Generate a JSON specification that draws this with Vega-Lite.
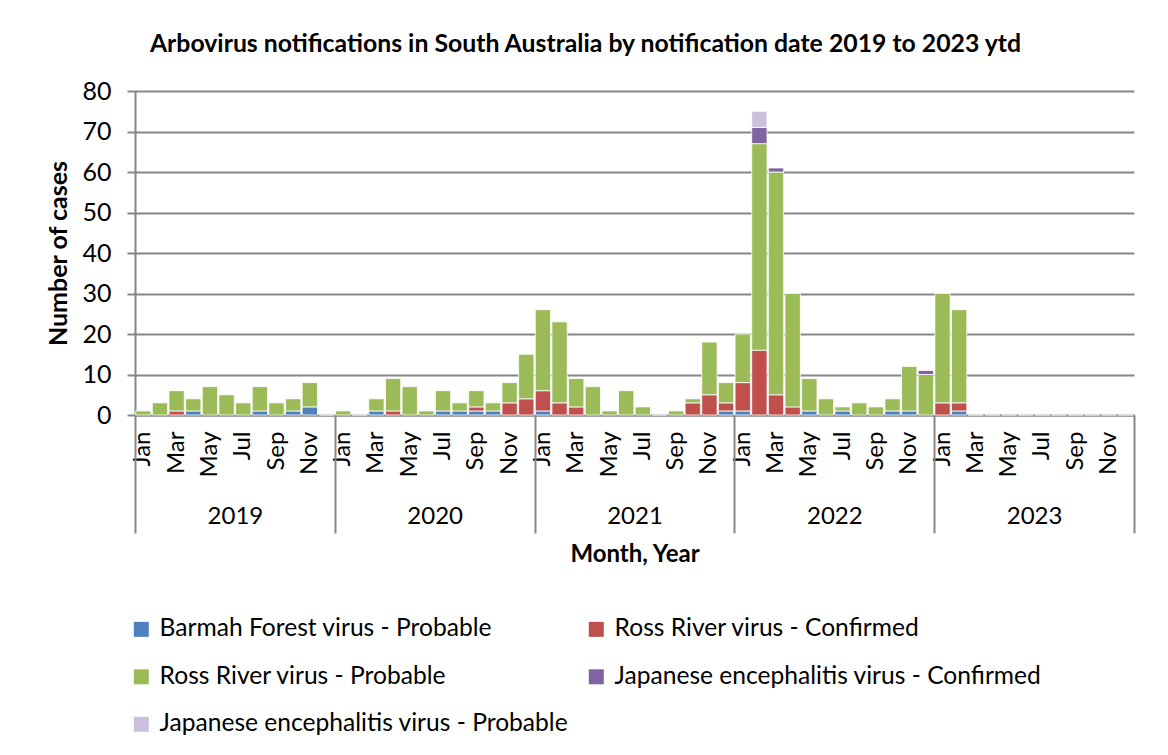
{
  "$schema": "https://vega.github.io/schema/vega-lite/v6.json",
  "width": 999,
  "height": 324,
  "autosize": {"type": "none"},
  "padding": {"left": 135, "top": 91, "right": 34, "bottom": 340},
  "background": "white",
  "config": {
    "font": "Lato",
    "view": {"stroke": null},
    "axis": {"labelColor": "black", "titleColor": "black", "labelFont": "Lato", "titleFont": "Lato"},
    "legend": {"layout": {"bottom": {"anchor": "start"}}}
  },
  "title": {
    "text": "Arbovirus notifications in South Australia by notification date 2019 to 2023 ytd",
    "font": "Lato",
    "fontSize": 24.8,
    "fontWeight": "bold",
    "color": "black",
    "anchor": "middle",
    "frame": "group",
    "dx": -49,
    "offset": 22
  },
  "datasets": {
    "seriesInfo": [
      {"series": "Barmah Forest virus  - Probable", "stackIndex": 1},
      {"series": "Ross River virus - Confirmed", "stackIndex": 2},
      {"series": "Ross River virus - Probable", "stackIndex": 3},
      {"series": "Japanese encephalitis virus - Confirmed", "stackIndex": 4},
      {"series": "Japanese encephalitis virus - Probable", "stackIndex": 5}
    ]
  },
  "data": {
    "values": [
      {"month": "Jan 2019", "year": "2019", "series": "Ross River virus - Probable", "cases": 1},
      {"month": "Feb 2019", "year": "2019", "series": "Ross River virus - Probable", "cases": 3},
      {"month": "Mar 2019", "year": "2019", "series": "Ross River virus - Confirmed", "cases": 1},
      {"month": "Mar 2019", "year": "2019", "series": "Ross River virus - Probable", "cases": 5},
      {"month": "Apr 2019", "year": "2019", "series": "Barmah Forest virus  - Probable", "cases": 1},
      {"month": "Apr 2019", "year": "2019", "series": "Ross River virus - Probable", "cases": 3},
      {"month": "May 2019", "year": "2019", "series": "Ross River virus - Probable", "cases": 7},
      {"month": "Jun 2019", "year": "2019", "series": "Ross River virus - Probable", "cases": 5},
      {"month": "Jul 2019", "year": "2019", "series": "Ross River virus - Probable", "cases": 3},
      {"month": "Aug 2019", "year": "2019", "series": "Barmah Forest virus  - Probable", "cases": 1},
      {"month": "Aug 2019", "year": "2019", "series": "Ross River virus - Probable", "cases": 6},
      {"month": "Sep 2019", "year": "2019", "series": "Ross River virus - Probable", "cases": 3},
      {"month": "Oct 2019", "year": "2019", "series": "Barmah Forest virus  - Probable", "cases": 1},
      {"month": "Oct 2019", "year": "2019", "series": "Ross River virus - Probable", "cases": 3},
      {"month": "Nov 2019", "year": "2019", "series": "Barmah Forest virus  - Probable", "cases": 2},
      {"month": "Nov 2019", "year": "2019", "series": "Ross River virus - Probable", "cases": 6},
      {"month": "Dec 2019", "year": "2019", "series": "Ross River virus - Probable", "cases": 0},
      {"month": "Jan 2020", "year": "2020", "series": "Ross River virus - Probable", "cases": 1},
      {"month": "Feb 2020", "year": "2020", "series": "Ross River virus - Probable", "cases": 0},
      {"month": "Mar 2020", "year": "2020", "series": "Barmah Forest virus  - Probable", "cases": 1},
      {"month": "Mar 2020", "year": "2020", "series": "Ross River virus - Probable", "cases": 3},
      {"month": "Apr 2020", "year": "2020", "series": "Ross River virus - Confirmed", "cases": 1},
      {"month": "Apr 2020", "year": "2020", "series": "Ross River virus - Probable", "cases": 8},
      {"month": "May 2020", "year": "2020", "series": "Ross River virus - Probable", "cases": 7},
      {"month": "Jun 2020", "year": "2020", "series": "Ross River virus - Probable", "cases": 1},
      {"month": "Jul 2020", "year": "2020", "series": "Barmah Forest virus  - Probable", "cases": 1},
      {"month": "Jul 2020", "year": "2020", "series": "Ross River virus - Probable", "cases": 5},
      {"month": "Aug 2020", "year": "2020", "series": "Barmah Forest virus  - Probable", "cases": 1},
      {"month": "Aug 2020", "year": "2020", "series": "Ross River virus - Probable", "cases": 2},
      {"month": "Sep 2020", "year": "2020", "series": "Barmah Forest virus  - Probable", "cases": 1},
      {"month": "Sep 2020", "year": "2020", "series": "Ross River virus - Confirmed", "cases": 1},
      {"month": "Sep 2020", "year": "2020", "series": "Ross River virus - Probable", "cases": 4},
      {"month": "Oct 2020", "year": "2020", "series": "Barmah Forest virus  - Probable", "cases": 1},
      {"month": "Oct 2020", "year": "2020", "series": "Ross River virus - Probable", "cases": 2},
      {"month": "Nov 2020", "year": "2020", "series": "Ross River virus - Confirmed", "cases": 3},
      {"month": "Nov 2020", "year": "2020", "series": "Ross River virus - Probable", "cases": 5},
      {"month": "Dec 2020", "year": "2020", "series": "Ross River virus - Confirmed", "cases": 4},
      {"month": "Dec 2020", "year": "2020", "series": "Ross River virus - Probable", "cases": 11},
      {"month": "Jan 2021", "year": "2021", "series": "Barmah Forest virus  - Probable", "cases": 1},
      {"month": "Jan 2021", "year": "2021", "series": "Ross River virus - Confirmed", "cases": 5},
      {"month": "Jan 2021", "year": "2021", "series": "Ross River virus - Probable", "cases": 20},
      {"month": "Feb 2021", "year": "2021", "series": "Ross River virus - Confirmed", "cases": 3},
      {"month": "Feb 2021", "year": "2021", "series": "Ross River virus - Probable", "cases": 20},
      {"month": "Mar 2021", "year": "2021", "series": "Ross River virus - Confirmed", "cases": 2},
      {"month": "Mar 2021", "year": "2021", "series": "Ross River virus - Probable", "cases": 7},
      {"month": "Apr 2021", "year": "2021", "series": "Ross River virus - Probable", "cases": 7},
      {"month": "May 2021", "year": "2021", "series": "Ross River virus - Probable", "cases": 1},
      {"month": "Jun 2021", "year": "2021", "series": "Ross River virus - Probable", "cases": 6},
      {"month": "Jul 2021", "year": "2021", "series": "Ross River virus - Probable", "cases": 2},
      {"month": "Aug 2021", "year": "2021", "series": "Ross River virus - Probable", "cases": 0},
      {"month": "Sep 2021", "year": "2021", "series": "Ross River virus - Probable", "cases": 1},
      {"month": "Oct 2021", "year": "2021", "series": "Ross River virus - Confirmed", "cases": 3},
      {"month": "Oct 2021", "year": "2021", "series": "Ross River virus - Probable", "cases": 1},
      {"month": "Nov 2021", "year": "2021", "series": "Ross River virus - Confirmed", "cases": 5},
      {"month": "Nov 2021", "year": "2021", "series": "Ross River virus - Probable", "cases": 13},
      {"month": "Dec 2021", "year": "2021", "series": "Barmah Forest virus  - Probable", "cases": 1},
      {"month": "Dec 2021", "year": "2021", "series": "Ross River virus - Confirmed", "cases": 2},
      {"month": "Dec 2021", "year": "2021", "series": "Ross River virus - Probable", "cases": 5},
      {"month": "Jan 2022", "year": "2022", "series": "Barmah Forest virus  - Probable", "cases": 1},
      {"month": "Jan 2022", "year": "2022", "series": "Ross River virus - Confirmed", "cases": 7},
      {"month": "Jan 2022", "year": "2022", "series": "Ross River virus - Probable", "cases": 12},
      {"month": "Feb 2022", "year": "2022", "series": "Ross River virus - Confirmed", "cases": 16},
      {"month": "Feb 2022", "year": "2022", "series": "Ross River virus - Probable", "cases": 51},
      {"month": "Feb 2022", "year": "2022", "series": "Japanese encephalitis virus - Confirmed", "cases": 4},
      {"month": "Feb 2022", "year": "2022", "series": "Japanese encephalitis virus - Probable", "cases": 4},
      {"month": "Mar 2022", "year": "2022", "series": "Ross River virus - Confirmed", "cases": 5},
      {"month": "Mar 2022", "year": "2022", "series": "Ross River virus - Probable", "cases": 55},
      {"month": "Mar 2022", "year": "2022", "series": "Japanese encephalitis virus - Confirmed", "cases": 1},
      {"month": "Apr 2022", "year": "2022", "series": "Ross River virus - Confirmed", "cases": 2},
      {"month": "Apr 2022", "year": "2022", "series": "Ross River virus - Probable", "cases": 28},
      {"month": "May 2022", "year": "2022", "series": "Barmah Forest virus  - Probable", "cases": 1},
      {"month": "May 2022", "year": "2022", "series": "Ross River virus - Probable", "cases": 8},
      {"month": "Jun 2022", "year": "2022", "series": "Ross River virus - Probable", "cases": 4},
      {"month": "Jul 2022", "year": "2022", "series": "Barmah Forest virus  - Probable", "cases": 1},
      {"month": "Jul 2022", "year": "2022", "series": "Ross River virus - Probable", "cases": 1},
      {"month": "Aug 2022", "year": "2022", "series": "Ross River virus - Probable", "cases": 3},
      {"month": "Sep 2022", "year": "2022", "series": "Ross River virus - Probable", "cases": 2},
      {"month": "Oct 2022", "year": "2022", "series": "Barmah Forest virus  - Probable", "cases": 1},
      {"month": "Oct 2022", "year": "2022", "series": "Ross River virus - Probable", "cases": 3},
      {"month": "Nov 2022", "year": "2022", "series": "Barmah Forest virus  - Probable", "cases": 1},
      {"month": "Nov 2022", "year": "2022", "series": "Ross River virus - Probable", "cases": 11},
      {"month": "Dec 2022", "year": "2022", "series": "Ross River virus - Probable", "cases": 10},
      {"month": "Dec 2022", "year": "2022", "series": "Japanese encephalitis virus - Confirmed", "cases": 1},
      {"month": "Jan 2023", "year": "2023", "series": "Ross River virus - Confirmed", "cases": 3},
      {"month": "Jan 2023", "year": "2023", "series": "Ross River virus - Probable", "cases": 27},
      {"month": "Feb 2023", "year": "2023", "series": "Barmah Forest virus  - Probable", "cases": 1},
      {"month": "Feb 2023", "year": "2023", "series": "Ross River virus - Confirmed", "cases": 2},
      {"month": "Feb 2023", "year": "2023", "series": "Ross River virus - Probable", "cases": 23},
      {"month": "Mar 2023", "year": "2023", "series": "Ross River virus - Probable", "cases": 0},
      {"month": "Apr 2023", "year": "2023", "series": "Ross River virus - Probable", "cases": 0},
      {"month": "May 2023", "year": "2023", "series": "Ross River virus - Probable", "cases": 0},
      {"month": "Jun 2023", "year": "2023", "series": "Ross River virus - Probable", "cases": 0},
      {"month": "Jul 2023", "year": "2023", "series": "Ross River virus - Probable", "cases": 0},
      {"month": "Aug 2023", "year": "2023", "series": "Ross River virus - Probable", "cases": 0},
      {"month": "Sep 2023", "year": "2023", "series": "Ross River virus - Probable", "cases": 0},
      {"month": "Oct 2023", "year": "2023", "series": "Ross River virus - Probable", "cases": 0},
      {"month": "Nov 2023", "year": "2023", "series": "Ross River virus - Probable", "cases": 0},
      {"month": "Dec 2023", "year": "2023", "series": "Ross River virus - Probable", "cases": 0}
    ]
  },
  "layer": [
    {
      "transform": [
        {"lookup": "series", "from": {"data": {"name": "seriesInfo"}, "key": "series", "fields": ["stackIndex"]}}
      ],
      "mark": {"type": "bar", "stroke": "white", "strokeWidth": 0.8},
      "encoding": {
        "x": {
          "field": "month",
          "type": "ordinal",
          "sort": null,
          "scale": {"paddingInner": 0.08, "paddingOuter": 0.04},
          "axis": {
            "orient": "bottom",
            "title": null,
            "domain": true,
            "domainColor": "#868686",
            "domainWidth": 2,
            "ticks": false,
            "grid": false,
            "labelAngle": -90,
            "labelFontSize": 24,
            "labelPadding": 16,
            "labelOverlap": false,
            "labelExpr": "indexof(['Jan','Mar','May','Jul','Sep','Nov'], slice(datum.value,0,3)) >= 0 ? slice(datum.value,0,3) : ''"
          }
        },
        "y": {
          "field": "cases",
          "type": "quantitative",
          "stack": "zero",
          "scale": {"domain": [0, 80], "nice": false},
          "axis": {
            "title": "Number of cases",
            "titleFontSize": 25,
            "titleFontWeight": "bold",
            "titlePadding": 10,
            "values": [0, 10, 20, 30, 40, 50, 60, 70, 80],
            "labelFontSize": 25,
            "labelPadding": 16,
            "domainColor": "#868686",
            "domainWidth": 2,
            "tickColor": "#868686",
            "tickWidth": 2,
            "tickSize": 8,
            "grid": true,
            "gridColor": "#868686",
            "gridWidth": 2,
            "gridOpacity": 1
          }
        },
        "order": {"field": "stackIndex", "type": "quantitative", "sort": "ascending"},
        "color": {
          "field": "series",
          "type": "nominal",
          "scale": {
            "domain": ["Barmah Forest virus  - Probable", "Ross River virus - Confirmed", "Ross River virus - Probable", "Japanese encephalitis virus - Confirmed", "Japanese encephalitis virus - Probable"],
            "range": ["#4F81BD", "#C0504D", "#9BBB59", "#8064A2", "#CCC1DA"]
          },
          "legend": {
            "orient": "bottom",
            "title": null,
            "columns": 2,
            "direction": "horizontal",
            "symbolType": "square",
            "symbolSize": 225,
            "symbolStrokeWidth": 0,
            "symbolOpacity": 1,
            "labelFontSize": 24.6,
            "labelFont": "Lato",
            "labelColor": "black",
            "labelLimit": 600,
            "labelOffset": 6,
            "columnPadding": 15,
            "rowPadding": 22.5,
            "padding": -6,
            "offset": 57
          }
        }
      }
    },
    {
      "mark": {"type": "bar", "opacity": 0},
      "encoding": {
        "x": {
          "field": "year",
          "type": "ordinal",
          "scale": {"paddingInner": 0, "paddingOuter": 0},
          "axis": {
            "orient": "bottom",
            "title": "Month, Year",
            "titleFontSize": 24,
            "titleFontWeight": "bold",
            "titlePadding": 8,
            "domain": false,
            "ticks": true,
            "tickBand": "extent",
            "tickColor": "#868686",
            "tickWidth": 2,
            "tickSize": 118,
            "labelAngle": 0,
            "labelFontSize": 24,
            "labelPadding": -29,
            "grid": false
          }
        }
      }
    }
  ],
  "resolve": {"scale": {"x": "independent"}, "axis": {"x": "independent"}}
}
